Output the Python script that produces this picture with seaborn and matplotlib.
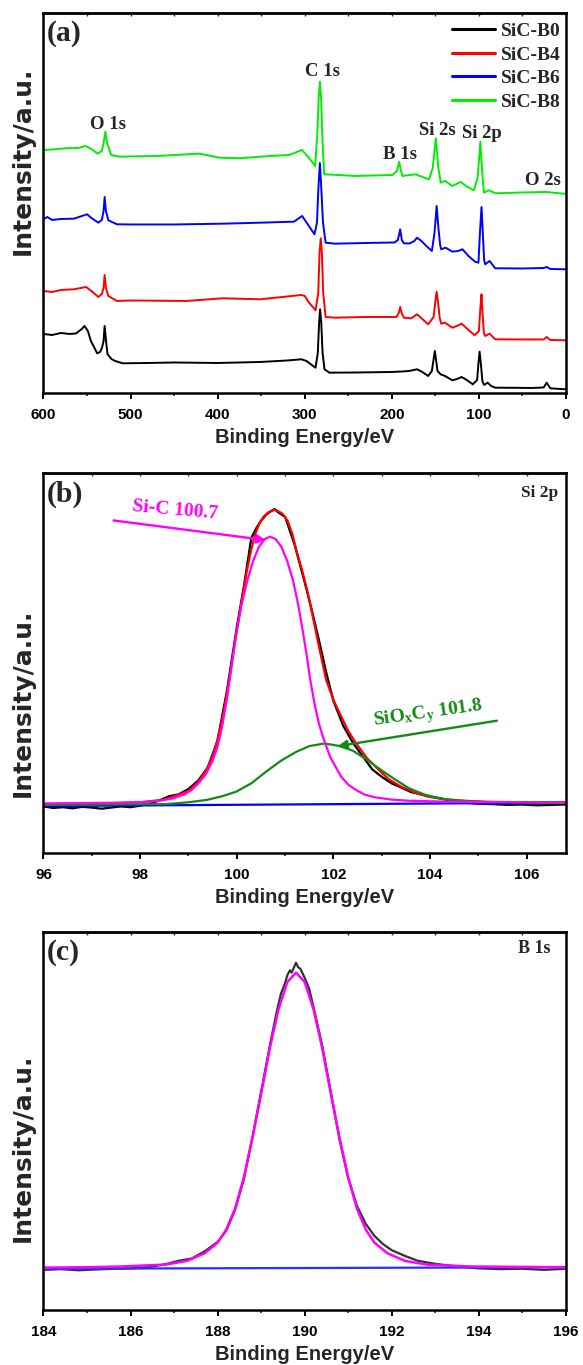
import matplotlib
matplotlib.use("Agg")
import matplotlib.pyplot as plt
import seaborn as sns

# ---------------- Panel (a): XPS survey spectra ----------------
survey_labels = ["SiC-B0", "SiC-B4", "SiC-B6", "SiC-B8"]
survey_colors = ["#000000", "#ff0000", "#0000ff", "#00ee00"]

b0_energy = [600, 590, 580, 570, 562.8, 556, 553, 549, 545.6, 542, 538.4, 535, 532.8, 531, 529.8, 528.2, 526.4,
             522, 517.8, 509, 480, 450, 400, 351, 320, 303.8, 298, 293, 287.6, 285, 283.5, 282.4, 281, 279.5,
             277.3, 271.7, 240, 200, 188, 180, 171, 165, 158.3, 154, 150.6, 147.5, 144, 139, 130.5, 125, 119.8,
             114, 107, 102, 100.5, 99.2, 97.8, 96, 94.1, 89.8, 86, 81.3, 60, 40, 25.6, 22.2, 18, 10, 0]
b0_intensity = [59, 58, 60, 59, 59.5, 64, 67, 62, 52, 46, 39.7, 41, 45.3, 52, 67, 52, 38.7,
                34, 32, 29.7, 30, 30.5, 30, 31, 32.5, 33.7, 32, 28.7, 25.3, 40, 70, 83.7, 70, 40,
                23.7, 20.3, 20.5, 21, 21.5, 22, 23.7, 21, 17, 22, 42, 22, 18.7, 17, 12.7, 14, 16,
                13, 8.7, 13, 30, 41.3, 30, 12, 8, 10.3, 7, 5.3, 5.2, 5, 5.5, 10.3, 4.7, 4.2, 3.7]

b4_energy = [600, 590, 580, 565, 551, 545, 537, 533, 531, 529.8, 528.3, 525.5, 515.7, 500, 436, 393.7, 351,
             303.8, 300, 295, 287.6, 284.5, 283, 281.6, 280.3, 278.8, 276, 265, 230, 194.7, 192, 190.4, 188.8,
             186.1, 177.6, 171.1, 165, 158.3, 152, 150, 148.5, 146.8, 145, 143.3, 139, 130.5, 124, 119.8, 112,
             104.8, 100, 98.3, 97, 95.8, 94.3, 92.8, 87.7, 81.3, 50, 25.6, 22.2, 18, 0]
b4_intensity = [102, 101, 103, 103.7, 106, 102, 96, 99, 105, 118, 105, 97, 92, 92.5, 92, 94.7, 93.7,
                98, 97, 90.3, 82.7, 100, 140, 154.7, 140, 100, 76, 75.3, 76, 76, 80, 86, 80,
                75.3, 74.7, 78.7, 74, 68.7, 76, 92, 101.3, 90, 75, 69.3, 70.3, 65.3, 67.5, 69.3, 63,
                57.7, 62, 85, 98.7, 80, 60, 57, 59.3, 53.7, 53.5, 53.5, 56, 53, 52.7]

b6_energy = [600, 595.7, 590, 580, 565, 550, 545, 537, 533, 531, 529.8, 528.3, 525.5, 515.7, 500, 450, 393.7,
             351, 312.4, 303, 296, 288.8, 286, 284.3, 282.6, 281, 279, 276, 265, 230, 196.8, 193, 190.4, 188.5,
             186.1, 179.7, 174, 171.1, 166, 160.4, 154, 151, 148.5, 146.5, 144.5, 143.3, 138.2, 130.5, 124,
             118.9, 112, 104, 100.5, 98.8, 97, 95.5, 94, 92.8, 87.7, 81.3, 50, 25.6, 22.2, 18, 0]
b6_intensity = [173.7, 176, 173, 174, 174.3, 178.7, 175, 170.3, 173, 182, 196, 182, 172.7, 168.7, 168.5, 168.5, 169.3,
                170.3, 171.3, 177, 168, 158.7, 170, 205, 230, 205, 170, 150.3, 149.3, 150, 150.5, 153, 163.7, 153,
                149.7, 149.5, 152, 155.3, 152, 147, 142, 160, 187, 165, 148, 143.7, 145.3, 141.3, 142,
                143.7, 137, 131, 130.3, 160, 186, 160, 133, 128.7, 132, 124.7, 124.5, 125, 126, 124, 123.7]

b8_energy = [600, 590, 574, 560, 551.8, 545, 537.7, 533, 531, 528.9, 527, 522.3, 512.8, 470, 421, 398, 375, 340,
             317.8, 303.2, 296, 288, 285.5, 284, 282.6, 281.2, 279.5, 277.7, 241.3, 199.3, 194, 191.6, 189.5,
             187.8, 172.5, 165, 157.2, 153, 149.5, 146.5, 143.8, 138.8, 130.5, 120.9, 113, 105.6, 101.5, 98.3,
             95.8, 94.1, 89.2, 80.7, 50, 23.4, 2.3, 0]
b8_intensity = [243, 243.5, 244.7, 245, 247, 244, 239.3, 242, 250, 261.3, 250, 238, 236.3, 237, 239.3, 235.3, 234.7, 237,
                238, 243, 236, 227, 260, 295, 311.3, 295, 250, 218.7, 217, 218, 222, 231.3, 222,
                217, 218.7, 216, 213.7, 225, 254.7, 225, 210.3, 212, 207, 211, 206, 202.7, 215, 251.3,
                215, 200.3, 202.7, 199.7, 200.5, 201, 199.3, 199.5]

survey_ticks = [600, 500, 400, 300, 200, 100, 0]
survey_tick_labels = ["600", "500", "400", "300", "200", "100", "0"]
survey_minor = [550, 450, 350, 250, 150, 50]

peak_names = ["O 1s", "C 1s", "B 1s", "Si 2s", "Si 2p", "O 2s"]
peak_name_energy = [526.3, 279.9, 190.3, 148.1, 96.1, 26.1]
peak_name_height = [268, 321, 238, 262, 259.3, 212]

# ---------------- Panel (b): Si 2p high-resolution ----------------
si_raw_energy = [96.0, 96.2, 96.4, 96.6, 96.8, 97.0, 97.2, 97.4, 97.6, 97.8, 98.0, 98.2, 98.4, 98.6, 98.8, 99.0,
                 99.2, 99.4, 99.6, 99.8, 100.0, 100.15, 100.3, 100.4, 100.5, 100.6, 100.7, 100.78, 100.85, 101.0,
                 101.2, 101.4, 101.5, 101.55, 101.7, 101.85, 102.0, 102.2, 102.4, 102.6, 102.8, 103.0, 103.2,
                 103.4, 103.6, 103.8, 104.0, 104.2, 104.4, 104.6, 104.8, 105.0, 105.3, 105.6, 105.9, 106.2,
                 106.5, 106.8]
si_raw_intensity = [12.2, 11.8, 12.0, 11.7, 12.1, 11.9, 11.6, 11.9, 12.2, 12.0, 12.4, 12.9, 13.8, 14.9, 15.4, 16.8,
                    19.0, 22.5, 29.5, 43.0, 59.5, 70.5, 83.0, 85.5, 87.5, 89.0, 90.0, 90.6, 89.8, 88.5,
                    81.0, 71.5, 66.5, 64.0, 56.0, 47.5, 40.0, 33.5, 29.0, 25.5, 22.0, 20.0, 18.3,
                    17.2, 16.0, 15.4, 14.8, 14.4, 13.7, 13.4, 13.1, 12.9, 12.8, 12.6, 12.7, 12.5,
                    12.6, 12.7]

si_env_energy = [96.0, 97.0, 98.0, 98.5, 99.0, 99.2, 99.37, 99.5, 99.6, 99.72, 99.84, 99.99, 100.1, 100.2, 100.3,
                 100.38, 100.46, 100.55, 100.65, 100.77, 100.85, 100.95, 101.05, 101.15, 101.23, 101.35, 101.47,
                 101.6, 101.7, 101.85, 102.0, 102.16, 102.3, 102.47, 102.7, 102.94, 103.15, 103.4, 103.7, 103.95,
                 104.3, 104.72, 105.2, 106.8]
si_env_intensity = [12.8, 12.9, 13.3, 14.0, 16.3, 18.6, 21.8, 25.5, 29.8, 36.5, 45.5, 57.8, 66.3, 73.8, 80.0,
                    84.0, 86.6, 88.5, 89.7, 90.35, 90.1, 89.3, 87.5, 84.0, 79.8, 74.5, 68.4,
                    60.5, 54.3, 45.5, 40.2, 35.9, 32.2, 28.8, 24.8, 21.8, 19.3, 17.4, 15.8, 14.8,
                    14.1, 13.7, 13.4, 13.2]

sic_energy = [96.0, 97.0, 97.6, 98.13, 98.4, 98.67, 98.9, 99.06, 99.2, 99.37, 99.5, 99.6, 99.7, 99.8, 99.9, 99.99,
              100.1, 100.22, 100.34, 100.46, 100.58, 100.69, 100.8, 100.92, 101.04, 101.16, 101.26, 101.35, 101.44,
              101.52, 101.62, 101.7, 101.78, 101.93, 102.05, 102.16, 102.3, 102.47, 102.65, 102.86, 103.2, 103.56,
              104.5, 106.8]
sic_intensity = [13.0, 13.1, 13.2, 13.4, 13.7, 14.3, 15.3, 16.5, 18.2, 20.9, 24.3, 27.9, 33.5, 41.0, 49.8, 57.8,
                 65.5, 71.9, 77.0, 80.7, 82.7, 83.3, 82.7, 80.7, 77.0, 71.9, 66.0, 59.6, 52.5,
                 45.5, 38.5, 34.0, 30.6, 25.3, 22.5, 20.0, 18.0, 16.5, 15.3, 14.6, 14.0, 13.7,
                 13.4, 13.2]

sioc_energy = [96.0, 97.0, 98.0, 98.52, 99.0, 99.37, 99.7, 99.99, 100.3, 100.61, 100.92, 101.23, 101.5, 101.81,
               102.1, 102.4, 102.67, 102.94, 103.25, 103.56, 103.87, 104.18, 104.6, 105.1, 106.0, 106.8]
sioc_intensity = [12.6, 12.7, 12.8, 12.8, 13.3, 13.9, 14.9, 16.1, 18.3, 21.4, 24.3, 26.6, 28.1, 28.8,
                  28.2, 26.9, 24.7, 22.2, 19.5, 17.0, 15.4, 14.3, 13.7, 13.4, 13.3, 13.2]

si_base_energy = [96.0, 106.8]
si_base_intensity = [12.3, 13.2]

si_ticks = [96, 98, 100, 102, 104, 106]
si_tick_labels = ["96", "98", "100", "102", "104", "106"]
si_minor = [97, 99, 101, 103, 105]

# ---------------- Panel (c): B 1s high-resolution ----------------
b_raw_energy = [184.0, 184.4, 184.8, 185.2, 185.6, 186.0, 186.4, 186.8, 187.1, 187.4, 187.7, 188.0, 188.2, 188.4,
                188.6, 188.8, 189.0, 189.2, 189.35, 189.45, 189.55, 189.6, 189.66, 189.7, 189.75, 189.8, 189.85,
                189.9, 190.0, 190.1, 190.2, 190.4, 190.6, 190.8, 191.0, 191.2, 191.4, 191.6, 191.8, 192.0, 192.3,
                192.6, 193.0, 193.5, 194.0, 194.5, 195.0, 195.5, 196.0]
b_raw_intensity = [10.6, 10.8, 10.5, 10.7, 10.9, 11.0, 11.3, 12.1, 13.0, 13.6, 15.5, 18.0, 21.0, 26.5,
                   34.5, 45.8, 57.8, 70.0, 78.5, 83.5, 86.5, 88.5, 89.8, 89.2, 90.5, 91.8, 90.6,
                   90.2, 87.8, 85.0, 80.2, 70.0, 57.5, 45.0, 34.8, 27.5, 22.8, 19.6, 17.4, 15.8, 14.3,
                   13.0, 12.2, 11.5, 11.0, 10.8, 10.9, 10.6, 10.9]

b_fit_energy = [184.0, 185.0, 185.8, 186.8, 187.3, 187.7, 188.0, 188.2, 188.4, 188.6, 188.8, 189.0, 189.2, 189.4,
                189.6, 189.8, 190.0, 190.2, 190.4, 190.6, 190.8, 191.0, 191.2, 191.4, 191.6, 191.9, 192.3, 192.8,
                193.8, 196.0]
b_fit_intensity = [11.2, 11.3, 11.5, 12.0, 13.0, 15.0, 17.8, 21.3, 26.8, 35.0, 45.5, 57.2, 69.3, 79.6,
                   86.7, 89.2, 86.7, 79.6, 69.3, 57.2, 45.5, 35.0, 26.8, 21.3, 17.8, 15.0, 13.0, 12.0,
                   11.5, 11.3]

b_base_energy = [184.0, 196.0]
b_base_intensity = [10.9, 11.3]

b_ticks = [184, 186, 188, 190, 192, 194, 196]
b_tick_labels = ["184", "186", "188", "190", "192", "194", "196"]
b_minor = [185, 187, 189, 191, 193, 195]

# ---------------- Styling ----------------
sns.set_theme(style="ticks")
plt.rcParams["font.family"] = ["Liberation Sans", "DejaVu Sans"]
plt.rcParams["mathtext.fontset"] = "custom"
plt.rcParams["mathtext.rm"] = "Liberation Serif:bold"
plt.rcParams["mathtext.it"] = "Liberation Serif:bold"
plt.rcParams["mathtext.bf"] = "Liberation Serif:bold"

SERIF = "Liberation Serif"
SANS = "Liberation Sans"
MAGENTA = "#ff00ff"
DGREEN = "#138a13"

fig = plt.figure(figsize=(5.83, 13.65), dpi=100)
L, W = 0.0746, 0.8962
ax_a = fig.add_axes([L, 0.7121, W, 0.2784])
ax_b = fig.add_axes([L, 0.3753, W, 0.2779])
ax_c = fig.add_axes([L, 0.0403, W, 0.2771])


def style_axis(ax, ticks, labels, minor, xlim, ylim, panel, label_y):
    ax.set_xlim(*xlim)
    ax.set_ylim(*ylim)
    ax.set_xticks(ticks)
    ax.set_xticklabels(labels, fontsize=11, fontweight="bold", fontfamily=SANS)
    ax.set_xticks(minor, minor=True)
    ax.set_yticks([])
    ax.tick_params(axis="x", which="major", direction="out", length=4.2, width=1.4, pad=6.5, colors="black")
    ax.tick_params(axis="x", which="minor", direction="out", length=2.4, width=1.2)
    for sp in ax.spines.values():
        sp.set_visible(True)
        sp.set_linewidth(1.8)
        sp.set_color("black")
    sec = ax.secondary_xaxis("top")
    sec.set_xticks(ticks)
    sec.set_xticks(minor, minor=True)
    sec.tick_params(axis="x", which="both", direction="in", length=2.2, width=1.0, labeltop=False)
    sec.spines["top"].set_linewidth(1.8)
    ax.set_xlabel("Binding Energy/eV", fontsize=14.5, fontweight="bold", fontfamily=SANS, labelpad=4.5)
    ax.set_ylabel("Intensity/a.u.", fontsize=18, fontweight="bold", fontfamily="DejaVu Sans")
    ax.yaxis.set_label_coords(-0.016, label_y)
    ax.text(0.006, 0.945, panel, transform=ax.transAxes, ha="left", va="center",
            fontsize=21.5, fontweight="bold", fontfamily=SERIF)
    ax.set_facecolor("white")


# ---- (a)
survey = [(b0_energy, b0_intensity), (b4_energy, b4_intensity),
          (b6_energy, b6_intensity), (b8_energy, b8_intensity)]
for (e, i), lab, col in zip(survey, survey_labels, survey_colors):
    sns.lineplot(x=e, y=i, ax=ax_a, color=col, lw=1.4, sort=False, estimator=None, label=lab)
style_axis(ax_a, survey_ticks, survey_tick_labels, survey_minor, (600, 0), (0, 380), "(a)", 0.61)
leg = ax_a.legend(loc="upper right", bbox_to_anchor=(0.997, 0.985), frameon=False,
                  prop={"family": SERIF, "weight": "bold", "size": 14},
                  handlelength=2.2, handletextpad=0.3, labelspacing=0.30, borderpad=0.2, borderaxespad=0)
for h in leg.get_lines():
    h.set_linewidth(2.2)
for name, e, h in zip(peak_names, peak_name_energy, peak_name_height):
    ax_a.text(e, h, name, ha="center", va="center", fontsize=13.5, fontweight="bold", fontfamily=SERIF)

# ---- (b)
sns.lineplot(x=si_raw_energy, y=si_raw_intensity, ax=ax_b, color="black", lw=1.6, sort=False, estimator=None)
sns.lineplot(x=si_env_energy, y=si_env_intensity, ax=ax_b, color="#ff0000", lw=1.6, sort=False, estimator=None)
sns.lineplot(x=si_base_energy, y=si_base_intensity, ax=ax_b, color="#0000ff", lw=1.6, sort=False, estimator=None)
sns.lineplot(x=sioc_energy, y=sioc_intensity, ax=ax_b, color=DGREEN, lw=1.6, sort=False, estimator=None)
sns.lineplot(x=sic_energy, y=sic_intensity, ax=ax_b, color=MAGENTA, lw=1.6, sort=False, estimator=None)
style_axis(ax_b, si_ticks, si_tick_labels, si_minor, (96, 106.81), (0, 100), "(b)", 0.395)
ax_b.text(0.986, 0.948, "Si 2p", transform=ax_b.transAxes, ha="right", va="center",
          fontsize=12.5, fontweight="bold", fontfamily=SERIF)
ax_b.annotate("", xy=(100.6, 82.4), xytext=(97.45, 87.6),
              arrowprops=dict(arrowstyle="-|>", color=MAGENTA, lw=1.7, mutation_scale=13, shrinkA=0, shrinkB=0))
ax_b.text(98.72, 90.2, "Si-C 100.7", ha="center", va="center", rotation=-5, color=MAGENTA,
          fontsize=14, fontweight="bold", fontfamily=SERIF)
ax_b.annotate("", xy=(102.09, 28.1), xytext=(105.38, 34.8),
              arrowprops=dict(arrowstyle="-|>", color=DGREEN, lw=1.7, mutation_scale=13, shrinkA=0, shrinkB=0))
ax_b.text(103.95, 36.7, r"SiO$_\mathrm{x}$C$_\mathrm{y}$ 101.8", ha="center", va="center", rotation=8,
          color=DGREEN, fontsize=14, fontweight="bold", fontfamily=SERIF)

# ---- (c)
sns.lineplot(x=b_raw_energy, y=b_raw_intensity, ax=ax_c, color="#333333", lw=1.6, sort=False, estimator=None)
sns.lineplot(x=b_base_energy, y=b_base_intensity, ax=ax_c, color="#2233ff", lw=1.6, sort=False, estimator=None)
sns.lineplot(x=b_fit_energy, y=b_fit_intensity, ax=ax_c, color=MAGENTA, lw=1.8, sort=False, estimator=None)
style_axis(ax_c, b_ticks, b_tick_labels, b_minor, (184, 196), (0, 100), "(c)", 0.428)
ax_c.text(0.971, 0.956, "B 1s", transform=ax_c.transAxes, ha="right", va="center",
          fontsize=13, fontweight="bold", fontfamily=SERIF)

fig.savefig("out.png", dpi=100, facecolor="white")
